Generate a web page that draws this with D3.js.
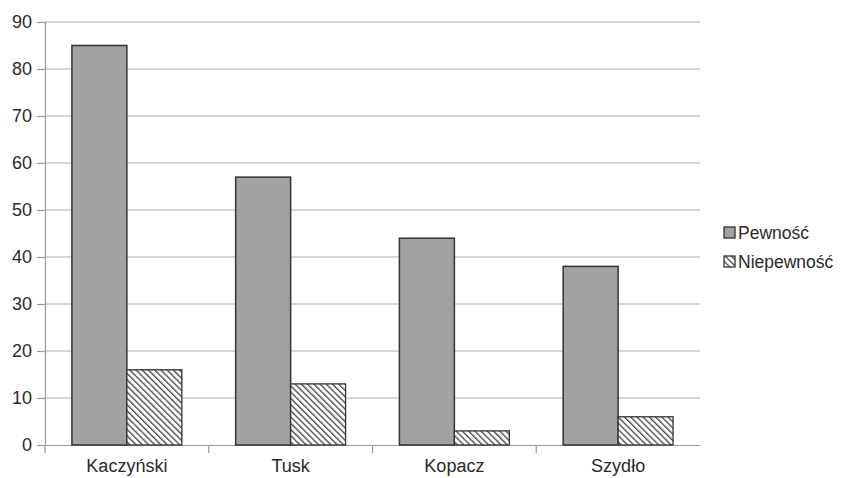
<!DOCTYPE html>
<html>
<head>
<meta charset="utf-8">
<script src="https://cdn.jsdelivr.net/npm/d3@7"></script>
<style>
  html, body { margin: 0; padding: 0; background: #fff; }
  svg text { font-family: "Liberation Sans", Arial, sans-serif; fill: #2a2a2a; }
</style>
</head>
<body>
<svg id="chart" width="842" height="478"></svg>
<script>
const categories = ["Kaczyński", "Tusk", "Kopacz", "Szydło"];
const seriesNames = ["Pewność", "Niepewność"];
const pewnosc = [85, 57, 44, 38];
const niepewnosc = [16, 13, 3, 6];
const yTicks = [0, 10, 20, 30, 40, 50, 60, 70, 80, 90];

const svg = d3.select("#chart");
const margin = { left: 45, right: 142, top: 22, bottom: 33 };
const W = 842, H = 478;

const x = d3.scaleBand().domain(categories).range([margin.left, W - margin.right]);
const xInner = d3.scaleBand().domain(seriesNames).range([0, x.bandwidth()]).paddingOuter(0.49);
const y = d3.scaleLinear().domain([0, 90]).range([H - margin.bottom, margin.top]);

// diagonal hatch pattern for the second series
const defs = svg.append("defs");
const pat = defs.append("pattern")
  .attr("id", "hatch")
  .attr("patternUnits", "userSpaceOnUse")
  .attr("width", 4.4).attr("height", 4.4)
  .attr("patternTransform", "rotate(-45)");
pat.append("rect").attr("width", 4.4).attr("height", 4.4).attr("fill", "#fff");
pat.append("line").attr("x1", 0.7).attr("y1", 0).attr("x2", 0.7).attr("y2", 4.4)
  .attr("stroke", "#333").attr("stroke-width", 1.2);

// gridlines
svg.append("g").selectAll("line").data(yTicks.slice(1)).join("line")
  .attr("x1", margin.left).attr("x2", W - margin.right)
  .attr("y1", d => y(d)).attr("y2", d => y(d))
  .attr("stroke", "#b0b0b0").attr("stroke-width", 1.2);

// y axis
const yAxis = svg.append("g").attr("transform", `translate(${margin.left},0)`)
  .call(d3.axisLeft(y).tickValues(yTicks).tickSize(8).tickPadding(5));
yAxis.select(".domain").attr("stroke", "#999").attr("stroke-width", 1.2);
yAxis.selectAll(".tick line").attr("stroke", "#999").attr("stroke-width", 1.2);
yAxis.selectAll(".tick text").style("font-size", "18px").attr("fill", "#2a2a2a");

// x axis
const xAxis = svg.append("g").attr("transform", `translate(0,${y(0)})`)
  .call(d3.axisBottom(x).tickSize(0).tickPadding(14));
xAxis.select(".domain").attr("stroke", "#999").attr("stroke-width", 1.2);
xAxis.selectAll(".tick text").style("font-size", "18px").attr("fill", "#2a2a2a");
svg.append("g").selectAll("line")
  .data(categories.map(c => x(c)))
  .join("line")
  .attr("x1", d => d).attr("x2", d => d)
  .attr("y1", y(0)).attr("y2", y(0) + 8)
  .attr("stroke", "#999").attr("stroke-width", 1.2);

// bars
const groups = svg.append("g").selectAll("g").data(categories).join("g")
  .attr("transform", c => `translate(${x(c)},0)`);

groups.append("rect")
  .attr("x", xInner("Pewność"))
  .attr("width", xInner.bandwidth())
  .attr("y", (c, i) => y(pewnosc[i]))
  .attr("height", (c, i) => y(0) - y(pewnosc[i]))
  .attr("fill", "#a2a2a4").attr("stroke", "#333").attr("stroke-width", 1.5);

groups.append("rect")
  .attr("x", xInner("Niepewność"))
  .attr("width", xInner.bandwidth())
  .attr("y", (c, i) => y(niepewnosc[i]))
  .attr("height", (c, i) => y(0) - y(niepewnosc[i]))
  .attr("fill", "url(#hatch)").attr("stroke", "#333").attr("stroke-width", 1.3);

// legend
const legend = svg.append("g").attr("transform", "translate(724,227)");
const fills = ["#a2a2a4", "url(#hatch)"];
seriesNames.forEach((name, i) => {
  const g = legend.append("g").attr("transform", `translate(0,${i * 29})`);
  g.append("rect").attr("width", 11).attr("height", 11)
    .attr("fill", fills[i]).attr("stroke", "#333").attr("stroke-width", 1.3);
  g.append("text").attr("x", 14).attr("y", 12).style("font-size", "17.5px").text(name);
});
</script>
</body>
</html>
